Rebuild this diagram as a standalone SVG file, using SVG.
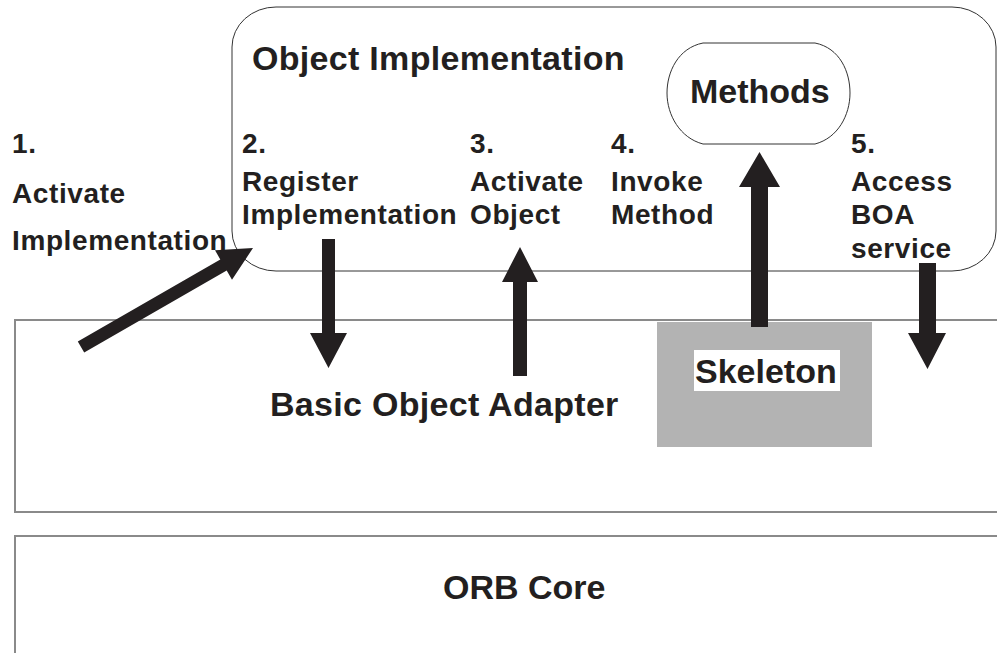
<svg xmlns="http://www.w3.org/2000/svg" width="997" height="653" viewBox="0 0 997 653">
<style>
text{font-family:"Liberation Sans",Arial,sans-serif;font-weight:bold;fill:#231f20}
.big{font-size:34px}
.lbl{font-size:28px;letter-spacing:0.6px}
.layer{fill:#fff;stroke:#8a8a8a;stroke-width:2}
.arrow{fill:#231f20}
</style>
<rect width="997" height="653" fill="#fff"/>
<g id="orb-core">
<rect class="layer" x="15" y="536" width="1000" height="140"/>
<text class="big" x="443" y="599">ORB Core</text>
</g>
<g id="boa">
<rect class="layer" x="15" y="320" width="1000" height="192"/>
<text class="big" x="270" y="416" letter-spacing="0.3">Basic Object Adapter</text>
</g>
<g id="skeleton">
<rect x="657" y="322" width="215" height="125" fill="#b3b3b3"/>
<rect x="694" y="350" width="146" height="41" fill="#fff"/>
<text class="big" x="695" y="383">Skeleton</text>
</g>
<g id="object-implementation">
<rect x="232" y="7" width="764" height="264" rx="44" ry="40" fill="#fff" stroke="#333" stroke-width="1"/>
<text class="big" x="252" y="70" letter-spacing="0.3">Object Implementation</text>
</g>
<g id="methods">
<path d="M703,43 L815,43 C840,48 850,72 850,93 C850,115 838,138 815,144 L703,144 C680,138 667,115 667,93 C667,72 678,48 703,43 Z" fill="#fff" stroke="#333" stroke-width="1"/>
<text class="big" x="690" y="103">Methods</text>
</g>
<g id="label-1">
<text class="lbl" x="12" y="153">1.</text>
<text class="lbl" x="12" y="203">Activate</text>
<text class="lbl" x="12" y="250">Implementation</text>
</g>
<g id="label-2">
<text class="lbl" x="242" y="153">2.</text>
<text class="lbl" x="242" y="191">Register</text>
<text class="lbl" x="242" y="224">Implementation</text>
</g>
<g id="label-3">
<text class="lbl" x="470" y="153">3.</text>
<text class="lbl" x="470" y="191">Activate</text>
<text class="lbl" x="470" y="224">Object</text>
</g>
<g id="label-4">
<text class="lbl" x="611" y="153">4.</text>
<text class="lbl" x="611" y="191">Invoke</text>
<text class="lbl" x="611" y="224">Method</text>
</g>
<g id="label-5">
<text class="lbl" x="851" y="153">5.</text>
<text class="lbl" x="851" y="191">Access</text>
<text class="lbl" x="851" y="224">BOA</text>
<text class="lbl" x="851" y="258">service</text>
</g>
<g id="connectors">
<polygon class="arrow" points="77.8,341.4 220.3,259.4 215,250.3 253,248 232,279.7 226.7,270.6 84.2,352.6"/>
<polygon class="arrow" points="322,239 335,239 335,333 347,333 328.5,368 310,333 322,333"/>
<polygon class="arrow" points="520,247 538,282 527,282 527,376 513,376 513,282 502,282"/>
<polygon class="arrow" points="759.5,152 780,187 768,187 768,327 751,327 751,187 739,187"/>
<polygon class="arrow" points="919,263 936,263 936,333 946,333 927.5,369 908,333 919,333"/>
</g>
</svg>
